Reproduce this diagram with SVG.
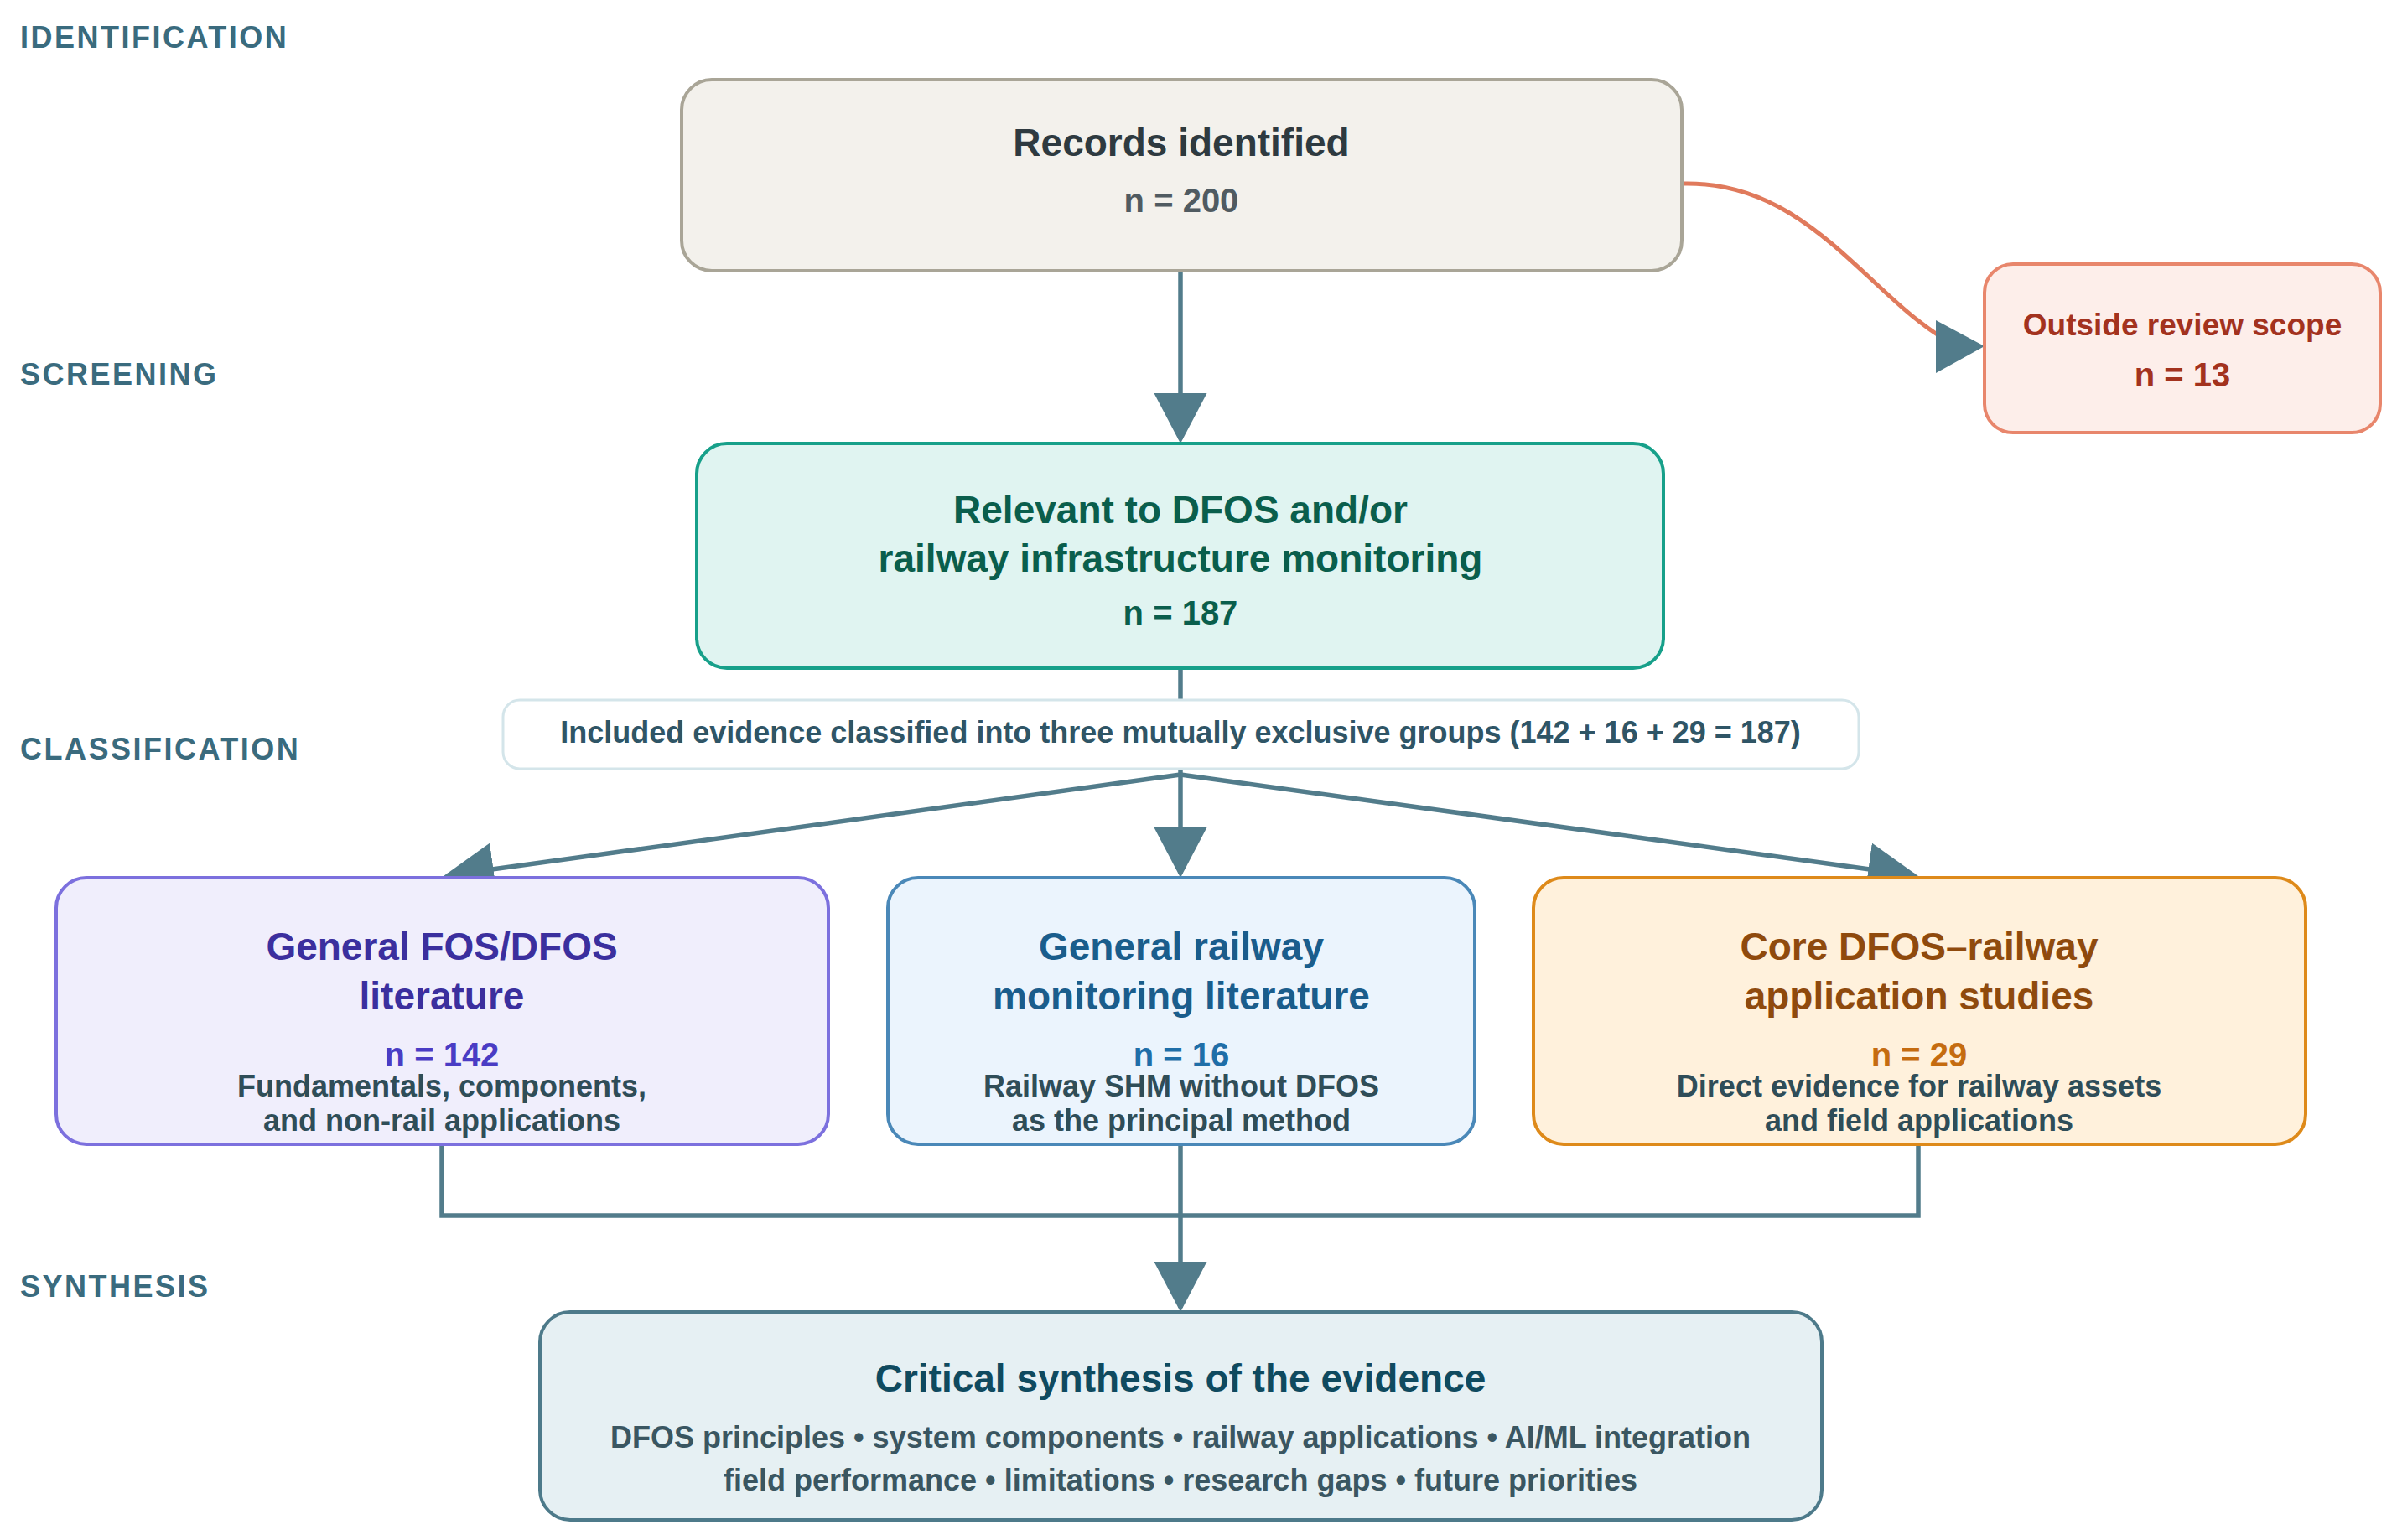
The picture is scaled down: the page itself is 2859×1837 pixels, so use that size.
<svg xmlns="http://www.w3.org/2000/svg" width="2859" height="1837" viewBox="0 0 2859 1837">
<style>
text{font-family:"Liberation Sans",Arial,sans-serif;font-weight:bold;text-anchor:middle}
.sec{text-anchor:start;font-size:36px;letter-spacing:2.5px;fill:#3a6b7e}
.t{font-size:46px}
.n{font-size:40px}
.d{font-size:36px;fill:#2f4d58}
.con{fill:none;stroke:#527c8b;stroke-width:5.5}
.box{stroke-width:4}
</style>
<defs>
<marker id="arr" markerUnits="userSpaceOnUse" markerWidth="60" markerHeight="63" refX="55" refY="31.5" orient="auto" viewBox="0 0 60 63">
<path d="M0,0 L60,31.5 L0,63 z" fill="#527c8b"/>
</marker>
</defs>
<rect width="2859" height="1837" fill="#ffffff"/>
<g id="section-labels">
<text class="sec" x="24" y="57">IDENTIFICATION</text>
<text class="sec" x="24" y="459">SCREENING</text>
<text class="sec" x="24" y="906">CLASSIFICATION</text>
<text class="sec" x="24" y="1547">SYNTHESIS</text>
</g>
<g id="connectors">
<path class="con" d="M1408,323 V524" marker-end="url(#arr)"/>
<path d="M2006,219 C2150,215 2220,340 2312,400" fill="none" stroke="#e07a5c" stroke-width="5"/>
<polygon points="2309,382 2367,413 2309,445" fill="#527c8b"/>
<path class="con" d="M1408,797 V835"/>
<path class="con" d="M1408,917 V1042" marker-end="url(#arr)"/>
<path class="con" d="M1408,924 L534,1044.3" marker-end="url(#arr)"/>
<path class="con" d="M1408,924 L2283,1044.3" marker-end="url(#arr)"/>
<path class="con" d="M527,1367 V1450 H2288 V1367"/>
<path class="con" d="M1408,1367 V1560" marker-end="url(#arr)"/>
</g>
<g id="records">
<rect class="box" x="813" y="95" width="1193" height="228" rx="36" fill="#f3f1ec" stroke="#a9a597"/>
<text class="t" x="1409" y="186" fill="#2e3a40">Records identified</text>
<text class="n" x="1409" y="253" fill="#505b61">n = 200</text>
</g>
<g id="outside">
<rect class="box" x="2367" y="315" width="472" height="201" rx="34" fill="#fdeeea" stroke="#e8866c"/>
<text x="2603" y="400" font-size="37" fill="#a3321e">Outside review scope</text>
<text class="n" x="2603" y="461" fill="#a3321e">n = 13</text>
</g>
<g id="relevant">
<rect class="box" x="831" y="529" width="1153" height="268" rx="36" fill="#e0f4f1" stroke="#17a08a"/>
<text class="t" x="1408" y="624" fill="#0a5e4c">Relevant to DFOS and/or</text>
<text class="t" x="1408" y="682" fill="#0a5e4c">railway infrastructure monitoring</text>
<text class="n" x="1408" y="745" fill="#0a5e4c">n = 187</text>
</g>
<g id="included">
<rect x="600" y="835" width="1617" height="82" rx="20" fill="#ffffff" stroke="#d4e5ea" stroke-width="3"/>
<text x="1408" y="886" font-size="36" fill="#2f5566">Included evidence classified into three mutually exclusive groups (142 + 16 + 29 = 187)</text>
</g>
<g id="general-fos">
<rect class="box" x="67" y="1047" width="921" height="318" rx="36" fill="#f0eefc" stroke="#7c70de"/>
<text class="t" x="527" y="1145" fill="#3b2f9e">General FOS/DFOS</text>
<text class="t" x="527" y="1204" fill="#3b2f9e">literature</text>
<text class="n" x="527" y="1272" fill="#4a3cc4">n = 142</text>
<text class="d" x="527" y="1308">Fundamentals, components,</text>
<text class="d" x="527" y="1349">and non-rail applications</text>
</g>
<g id="general-railway">
<rect class="box" x="1059" y="1047" width="700" height="318" rx="36" fill="#ebf4fd" stroke="#4a88b8"/>
<text class="t" x="1409" y="1145" fill="#1a5d8c">General railway</text>
<text class="t" x="1409" y="1204" fill="#1a5d8c">monitoring literature</text>
<text class="n" x="1409" y="1272" fill="#1f6ea8">n = 16</text>
<text class="d" x="1409" y="1308">Railway SHM without DFOS</text>
<text class="d" x="1409" y="1349">as the principal method</text>
</g>
<g id="core-dfos">
<rect class="box" x="1829" y="1047" width="921" height="318" rx="36" fill="#fff1dc" stroke="#de8a1a"/>
<text class="t" x="2289" y="1145" fill="#8f4a0d">Core DFOS–railway</text>
<text class="t" x="2289" y="1204" fill="#8f4a0d">application studies</text>
<text class="n" x="2289" y="1272" fill="#c56c10">n = 29</text>
<text class="d" x="2289" y="1308">Direct evidence for railway assets</text>
<text class="d" x="2289" y="1349">and field applications</text>
</g>
<g id="synthesis">
<rect class="box" x="644" y="1565" width="1529" height="248" rx="36" fill="#e6f0f3" stroke="#4d7a8a"/>
<text class="t" x="1408" y="1660" fill="#0f4a5f">Critical synthesis of the evidence</text>
<text x="1408" y="1727" font-size="36" fill="#3a5661">DFOS principles • system components • railway applications • AI/ML integration</text>
<text x="1408" y="1778" font-size="36" fill="#3a5661">field performance • limitations • research gaps • future priorities</text>
</g>
</svg>
